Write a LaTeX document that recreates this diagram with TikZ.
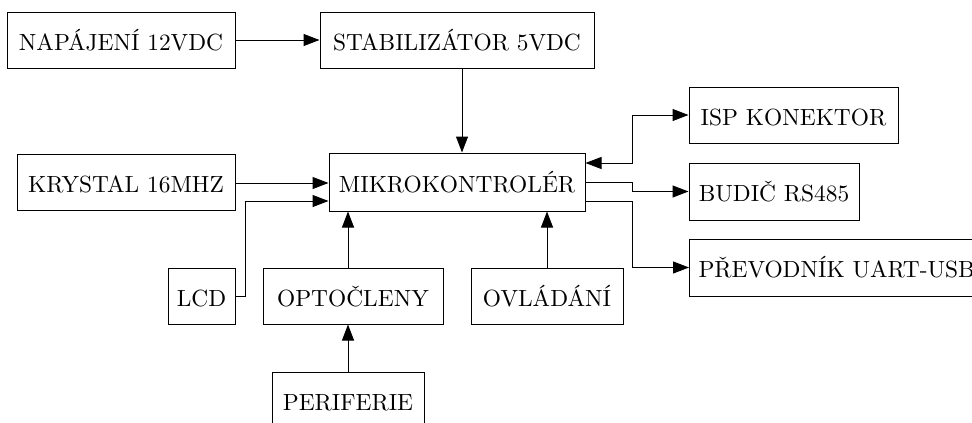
\documentclass[tikz,border=0pt]{standalone}
\usepackage{fontspec}
\setmainfont{lmroman10-regular}[Extension=.otf]
\usetikzlibrary{arrows.meta}
\begin{document}
\begin{tikzpicture}[x=1pt,y=-1pt,
  box/.style={draw=black, line width=1pt, rectangle, inner sep=0pt, text height=20pt, text depth=0pt,
    font=\fontsize{23.4pt}{28pt}\selectfont},
  arr/.style={line width=1pt, -{Triangle[length=16pt,width=12pt]}},
  arrtwo/.style={line width=1pt, {Triangle[length=16pt,width=12pt]}-{Triangle[length=16pt,width=12pt]}},
  ln/.style={line width=1pt}]
\useasboundingbox (0,0) rectangle (972,423);
\clip (0,0) rectangle (972,423);
\node[box, minimum width=228pt, minimum height=56pt] (nap) at (121,40) {NAPÁJENÍ 12VDC};
\node[box, minimum width=274pt, minimum height=56pt] (stab) at (457,40) {STABILIZÁTOR 5VDC};
\node[box, minimum width=256pt, minimum height=58pt] (mikro) at (457,182) {MIKROKONTROLÉR};
\node[box, minimum width=209pt, minimum height=56pt] (isp) at (793.5,115) {ISP KONEKTOR};
\node[box, minimum width=170pt, minimum height=57pt] (budic) at (774,191.5) {BUDIČ RS485};
\node[box, minimum height=57pt, inner xsep=9pt, anchor=west] (prev) at (689,267.5) {PŘEVODNÍK UART-USB};
\node[box, minimum width=218pt, minimum height=56pt] (kry) at (126,182) {KRYSTAL 16MHZ};
\node[box, minimum width=67pt, minimum height=56pt] (lcd) at (201.5,296) {LCD};
\node[box, minimum width=180pt, minimum height=56pt] (opto) at (353,296) {OPTOČLENY};
\node[box, minimum width=152pt, minimum height=56pt] (ovl) at (547,296) {OVLÁDÁNÍ};
\node[box, minimum width=152pt, minimum height=56pt] (peri) at (348,400) {PERIFERIE};

\draw[arr] (nap.east) -- (stab.west);
\draw[arr] ([xshift=5pt]stab.south) -- ([xshift=5pt]mikro.north);
\draw[arr] ([yshift=-1pt]kry.east) -- ([yshift=-1pt]kry.east -| mikro.west);
\draw[arr] (lcd.east) -- ++(10,0) |- ([yshift=-19pt]mikro.west);
\draw[arr] ([xshift=-5pt]opto.north) -- ([xshift=-5pt]opto.north |- mikro.south);
\draw[arr] (ovl.north) -- (ovl.north |- mikro.south);
\draw[arr] (peri.north) -- (peri.north |- opto.south);
\draw[arrtwo] ([yshift=19pt]mikro.east) -- ++(47,0) |- (isp.west);
\draw[arr] (mikro.east) -- ++(47,0) |- (budic.west);
\draw[arr] ([yshift=-19pt]mikro.east) -- ++(47,0) |- (prev.west);
\end{tikzpicture}
\end{document}
